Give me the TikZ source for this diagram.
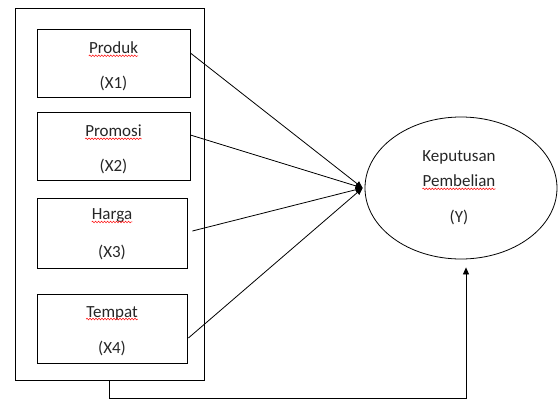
\documentclass[tikz,border=0pt]{standalone}
\usepackage{fontspec}
\setmainfont{Carlito}
\usetikzlibrary{arrows.meta, shapes.geometric, decorations.pathmorphing}

\tikzset{
  varbox/.style={draw, line width=0.8pt, inner sep=0pt},
  lbl/.style={inner sep=0pt, font=\fontsize{17}{19}\selectfont, text=black!85},
  squiggle/.style={red, line width=0.5pt, decorate,
    decoration={snake, amplitude=0.8pt, segment length=3pt}},
  link/.style={line width=0.8pt, -{Triangle[length=7pt,width=6pt]}}
}

\begin{document}
\begin{tikzpicture}[x=1pt, y=-1pt]
      \useasboundingbox (0,0) rectangle (558,399);
      % outer frame and the four variables
      \node[varbox, minimum width=189pt, minimum height=372pt] (outer) at (109.5,194) {};
      \node[varbox, minimum width=153pt, minimum height=68pt] (b1) at (113.5,63) {};
      \node[varbox, minimum width=153pt, minimum height=68pt] (b2) at (113.5,146) {};
      \node[varbox, minimum width=150pt, minimum height=70pt] (b3) at (112,233) {};
      \node[varbox, minimum width=150pt, minimum height=69pt] (b4) at (112,328.5) {};
      \node[lbl] (n1) at (113.5,48) {Produk};  \node[lbl] (x1) at (113.5,83) {(X1)};
      \node[lbl] (n2) at (113.5,131) {Promosi}; \node[lbl] (x2) at (113.5,166) {(X2)};
      \node[lbl] (n3) at (112,216) {Harga};    \node[lbl] (x3) at (112,252) {(X3)};
      \node[lbl] (n4) at (112,313) {Tempat};   \node[lbl] (x4) at (112,348) {(X4)};
      % dependent variable
      \node[draw, ellipse, line width=0.8pt, minimum width=192pt, minimum height=142pt] (y) at (461,188) {};
      \node[lbl] (ky) at (459,157) {Keputusan};
      \node[lbl] (py) at (459,181) {Pembelian};
      \node[lbl] (yy) at (459,217) {(Y)};
      % spell-check marks
      \draw[squiggle] ([yshift=-2pt]n1.base west) -- ([yshift=-2pt]n1.base east);
      \draw[squiggle] ([yshift=-2pt]n2.base west) -- ([yshift=-2pt]n2.base east);
      \draw[squiggle] ([yshift=-2pt]n3.base west) -- ([yshift=-2pt]n3.base east);
      \draw[squiggle] ([yshift=-2pt]n4.base west) -- ([yshift=-2pt]n4.base east);
      \draw[squiggle] ([yshift=-2pt]py.base west) -- ([yshift=-2pt]py.base east);
      % links
      \coordinate (tip) at ([xshift=-2pt]y.west);
      \draw[link] ([yshift=10pt]b1.east) -- (tip);
      \draw[link] ([yshift=11pt]b2.east) -- (tip);
      \draw[link] ([xshift=5pt,yshift=2pt]b3.east) -- (tip);
      \draw[link] ([xshift=1pt,yshift=-9.5pt]b4.east) -- (tip);
      \draw[link] (outer.south) -- ++(0,18) -| ([xshift=5pt,yshift=-8pt]y.south);
    \end{tikzpicture}
\end{document}
